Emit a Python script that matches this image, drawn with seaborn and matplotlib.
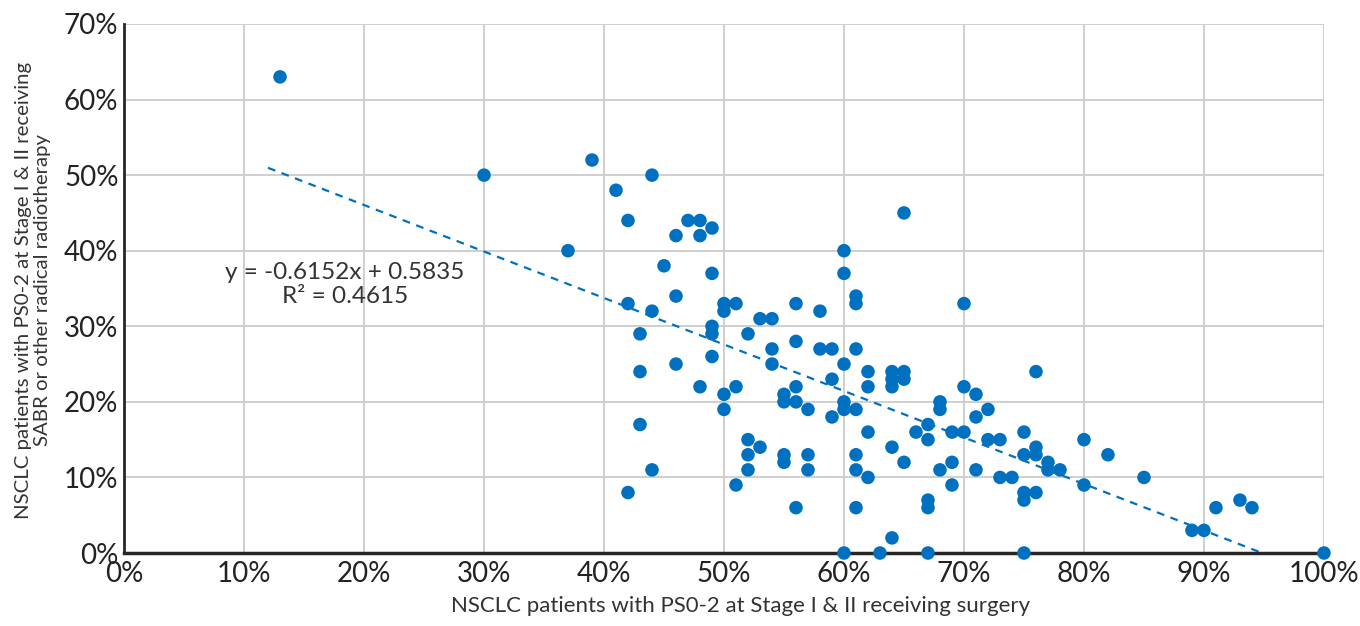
import matplotlib
matplotlib.use("Agg")
import matplotlib.pyplot as plt
import seaborn as sns
import numpy as np
import pandas as pd
from matplotlib.ticker import PercentFormatter, MultipleLocator

# ---- data (fractions) ----
surgery_pct = [13, 30, 39, 41, 42, 44, 37, 42, 43, 44, 43, 45, 46, 47, 48, 48, 49, 49, 46, 49,
               49, 46, 48, 49, 43, 44, 42, 50, 50, 51, 50, 50, 51, 52, 53, 54, 54, 54, 56, 56,
               57, 55, 55, 56, 56, 52, 52, 52, 53, 51, 55, 55, 57, 57, 56, 58, 58, 59, 59, 59,
               60, 60, 60, 60, 60, 61, 61, 61, 61, 61, 61, 61, 62, 62, 62, 62, 60, 63, 64, 64,
               64, 64, 64, 65, 65, 65, 65, 66, 67, 67, 67, 67, 67, 68, 68, 68, 69, 69, 69, 70,
               70, 70, 71, 71, 71, 72, 72, 73, 73, 74, 75, 75, 75, 75, 75, 76, 76, 76, 76, 77,
               77, 78, 80, 80, 82, 85, 89, 90, 91, 93, 94, 100]
radio_pct = [63, 50, 52, 48, 44, 50, 40, 33, 29, 32, 24, 38, 42, 44, 44, 42, 43, 37, 34, 30,
             29, 25, 22, 26, 17, 11, 8, 33, 32, 33, 21, 19, 22, 29, 31, 31, 27, 25, 33, 28,
             19, 21, 20, 22, 20, 15, 13, 11, 14, 9, 13, 12, 13, 11, 6, 32, 27, 27, 23, 18,
             40, 37, 25, 20, 19, 34, 33, 27, 19, 13, 11, 6, 24, 22, 16, 10, 0, 0, 2, 14,
             24, 23, 22, 24, 23, 12, 45, 16, 17, 15, 7, 6, 0, 20, 19, 11, 16, 12, 9, 33,
             22, 16, 21, 18, 11, 19, 15, 15, 10, 10, 16, 13, 8, 7, 0, 24, 14, 13, 8, 12,
             11, 11, 15, 9, 13, 10, 3, 3, 6, 7, 6, 0]

trend_slope = -0.6152
trend_intercept = 0.5835
trend_x_start = 0.12
equation_text = "y = -0.6152x + 0.5835\nR\u00b2 = 0.4615"

x_label = "NSCLC patients with PS0-2 at Stage I & II receiving surgery"
y_label = "NSCLC patients with PS0-2 at Stage I & II receiving\nSABR or other radical radiotherapy"

df = pd.DataFrame({"surgery": np.array(surgery_pct) / 100.0,
                   "radio": np.array(radio_pct) / 100.0})

sns.set_theme(style="white")
plt.rcParams["font.family"] = ["Lato", "DejaVu Sans"]

BLUE = "#0070C0"
fig = plt.figure(figsize=(13.6, 6.26), dpi=100)
ax = fig.add_axes([0.0912, 0.1166, 0.8823, 0.8451])

ax.set_xlim(0, 1)
ax.set_ylim(0, 0.7)
ax.xaxis.set_major_locator(MultipleLocator(0.1))
ax.yaxis.set_major_locator(MultipleLocator(0.1))
ax.xaxis.set_major_formatter(PercentFormatter(1.0, decimals=0))
ax.yaxis.set_major_formatter(PercentFormatter(1.0, decimals=0))
ax.grid(True, color="#cccccc", linewidth=1.3)
ax.set_axisbelow(True)

# trend line (clipped at y = 0)
x_end = -trend_intercept / trend_slope
tx = np.array([trend_x_start, x_end])
sns.lineplot(x=tx, y=trend_slope * tx + trend_intercept, ax=ax, color=BLUE,
             linewidth=1.6, linestyle=(0, (3.5, 3)), zorder=2)

sns.scatterplot(data=df, x="surgery", y="radio", ax=ax, color=BLUE, s=95,
                edgecolor="none", linewidth=0, zorder=3, clip_on=False)

for s in ["top", "right"]:
    ax.spines[s].set_visible(False)
ax.spines["left"].set_color("#262626")
ax.spines["left"].set_linewidth(2)
ax.spines["bottom"].set_color("#262626")
ax.spines["bottom"].set_linewidth(2.5)
ax.spines["left"].set_zorder(1)

ax.tick_params(axis="both", length=0, labelsize=20, colors="#222222", pad=4)
ax.tick_params(axis="x", pad=6)

ax.set_xlabel(x_label, fontsize=16, color="#333333", labelpad=10)
ax.xaxis.set_label_coords(0.514, -0.082)
ax.set_ylabel(y_label, fontsize=14.7, color="#333333", labelpad=8, linespacing=1.1)
ax.yaxis.set_label_coords(-0.061, 0.497)

ax.text(0.184, 0.355, equation_text, fontsize=17.5, color="#333333",
        ha="center", va="center", linespacing=1.2)

fig.savefig("out.png", dpi=100)
